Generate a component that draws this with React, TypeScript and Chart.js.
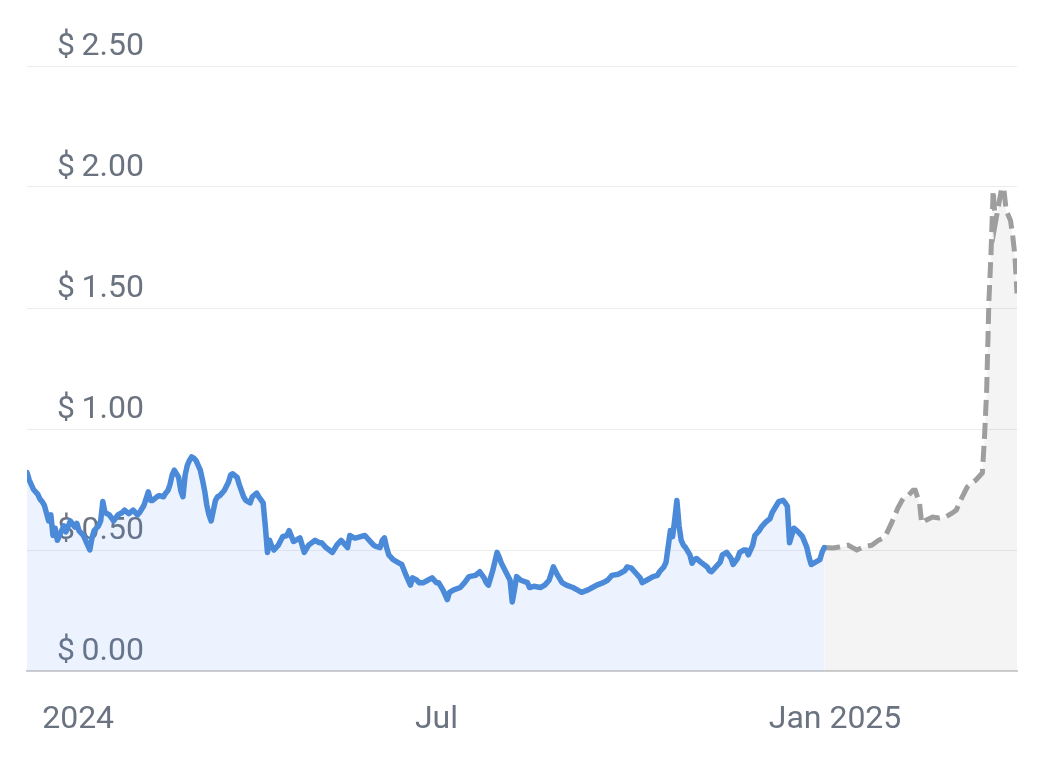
import { useEffect, useRef } from "react";
import { Chart, registerables } from "chart.js";

Chart.register(...registerables);

// Days counted from 2024-01-01
const actualDays = [
  -7, -6, -4, -2, -1, 0, 1, 3, 4, 5, 6, 7, 9, 10, 11, 13, 15, 16, 17, 19, 21, 22, 23, 24, 26, 27, 28, 29, 31, 33,
  35, 37, 38, 40, 42, 44, 45, 47, 49, 50, 51, 53, 54, 56, 57, 58, 59, 60, 61, 63, 64, 65, 66, 67, 68, 69, 70, 71, 73, 74,
  75, 76, 77, 78, 80, 81, 82, 83, 84, 86, 87, 88, 90, 91, 92, 93, 94, 96, 97, 99, 100, 102, 103, 104, 105, 106, 107, 109, 111, 113,
  114, 116, 117, 119, 120, 121, 123, 126, 128, 129, 131, 134, 136, 138, 140, 141, 142, 144, 145, 147, 149, 151, 153, 154, 156, 157, 158, 159, 160, 162,
  164, 165, 166, 168, 170, 171, 173, 174, 176, 178, 180, 182, 183, 185, 187, 188, 190, 193, 195, 197, 200, 202, 204, 205, 206, 208, 210, 211, 212, 214,
  216, 217, 218, 219, 221, 224, 225, 227, 230, 232, 234, 236, 238, 240, 242, 245, 247, 249, 252, 254, 256, 259, 261, 263, 266, 267, 269, 270, 272, 274,
  276, 277, 279, 282, 284, 285, 287, 288, 290, 291, 292, 293, 294, 295, 296, 297, 299, 300, 301, 302, 304, 307, 308, 309, 311, 313, 314, 316, 318, 319,
  321, 322, 324, 325, 326, 328, 329, 331, 332, 334, 336, 337, 339, 340, 342, 343, 344, 345, 346, 347, 349, 351, 353, 354, 355, 357, 359, 360, 361,
];
const actualPrices = [
  0.82, 0.79, 0.75, 0.73, 0.71, 0.70, 0.685, 0.62, 0.645, 0.56, 0.59, 0.54, 0.58, 0.60, 0.575, 0.62, 0.595, 0.61, 0.58, 0.56, 0.52, 0.50, 0.55, 0.58, 0.60, 0.62, 0.70, 0.655, 0.645, 0.62,
  0.645, 0.655, 0.665, 0.65, 0.665, 0.645, 0.655, 0.685, 0.74, 0.705, 0.705, 0.72, 0.725, 0.72, 0.735, 0.745, 0.77, 0.81, 0.83, 0.80, 0.745, 0.72, 0.81, 0.85, 0.87, 0.885, 0.88, 0.87, 0.83, 0.79,
  0.745, 0.685, 0.645, 0.62, 0.705, 0.72, 0.725, 0.735, 0.745, 0.78, 0.81, 0.815, 0.80, 0.77, 0.745, 0.72, 0.705, 0.695, 0.72, 0.735, 0.72, 0.695, 0.60, 0.49, 0.54, 0.515, 0.50, 0.52, 0.555, 0.56,
  0.58, 0.535, 0.54, 0.55, 0.52, 0.49, 0.52, 0.54, 0.53, 0.53, 0.51, 0.49, 0.52, 0.54, 0.52, 0.51, 0.56, 0.55, 0.55, 0.555, 0.56, 0.54, 0.52, 0.515, 0.51, 0.54, 0.55, 0.51, 0.48, 0.46,
  0.45, 0.445, 0.44, 0.395, 0.355, 0.385, 0.375, 0.365, 0.365, 0.375, 0.385, 0.365, 0.365, 0.335, 0.295, 0.325, 0.335, 0.345, 0.365, 0.39, 0.395, 0.41, 0.385, 0.365, 0.355, 0.415, 0.49, 0.47, 0.445, 0.41,
  0.375, 0.285, 0.335, 0.39, 0.375, 0.365, 0.345, 0.35, 0.345, 0.355, 0.375, 0.43, 0.395, 0.365, 0.355, 0.345, 0.335, 0.325, 0.335, 0.345, 0.355, 0.365, 0.375, 0.395, 0.40, 0.405, 0.415, 0.43, 0.425, 0.405,
  0.385, 0.365, 0.375, 0.39, 0.395, 0.41, 0.43, 0.45, 0.58, 0.555, 0.625, 0.705, 0.60, 0.54, 0.52, 0.51, 0.48, 0.445, 0.46, 0.465, 0.45, 0.43, 0.415, 0.41, 0.43, 0.45, 0.48, 0.49, 0.465, 0.44,
  0.465, 0.49, 0.50, 0.50, 0.48, 0.52, 0.56, 0.58, 0.595, 0.615, 0.63, 0.655, 0.685, 0.70, 0.705, 0.695, 0.68, 0.53, 0.56, 0.59, 0.575, 0.555, 0.51, 0.47, 0.44, 0.45, 0.46, 0.49, 0.51,
];
const forecastDays = [
  361, 365, 368, 372, 376, 379, 383, 386, 389, 392, 395, 397, 398, 400, 402, 403, 405, 406, 408, 411, 414, 417, 420, 422, 424, 427, 429, 431, 434, 435,
  436, 437, 438, 439, 440, 442, 443, 444, 445, 447, 448, 449, 450,
];
const forecastPrices = [
  0.51, 0.508, 0.512, 0.52, 0.50, 0.512, 0.52, 0.54, 0.553, 0.61, 0.673, 0.706, 0.718, 0.727, 0.747, 0.747, 0.694, 0.611, 0.623, 0.636, 0.632, 0.636, 0.652, 0.665, 0.706, 0.76, 0.776, 0.789, 0.818, 0.966,
  1.16, 1.52, 1.726, 1.986, 1.85, 1.95, 1.998, 1.986, 1.903, 1.862, 1.80, 1.72, 1.56,
];

const yTickValues = [0, 0.5, 1, 1.5, 2, 2.5];
const xTickDays = [0, 182, 366];
const xTickLabels = ["2024", "Jul", "Jan 2025"];

const TEXT_COLOR = "#6b7380";

export default function App() {
  const ref = useRef<HTMLCanvasElement>(null);

  useEffect(() => {
    if (!ref.current) return;
    Chart.defaults.font.family = "Roboto";
    const toPts = (d: number[], p: number[]) => d.map((x, i) => ({ x, y: p[i] }));
    const chart = new Chart(ref.current, {
      type: "line",
      data: {
        datasets: [
          {
            data: toPts(actualDays, actualPrices),
            borderColor: "#4a8ad9",
            borderWidth: 5.5,
            backgroundColor: "rgba(66,133,244,0.1)",
            fill: "origin",
            pointRadius: 0,
            tension: 0,
            borderJoinStyle: "round",
            borderCapStyle: "round",
          },
          {
            data: toPts(forecastDays, forecastPrices),
            borderColor: "#9e9e9e",
            borderWidth: 5,
            borderDash: [16, 7],
            backgroundColor: "rgba(0,0,0,0.045)",
            fill: "origin",
            pointRadius: 0,
            tension: 0,
          },
        ],
      },
      options: {
        responsive: false,
        animation: false,
        layout: { padding: { left: 19, right: 19, top: 58, bottom: 16 } },
        plugins: { legend: { display: false }, tooltip: { enabled: false } },
        scales: {
          x: {
            type: "linear",
            min: -7,
            max: 450,
            grid: { display: false, drawTicks: false },
            border: { display: true, color: "#cfcfcf", width: 2 },
            afterBuildTicks: (axis: any) => {
              axis.ticks = [...xTickDays, 430].map((v) => ({ value: v }));
            },
            afterFit: (s: any) => {
              s.height = 68;
            },
            ticks: {
              autoSkip: false,
              maxRotation: 0,
              align: "inner",
              padding: 30,
              color: TEXT_COLOR,
              font: { family: "Roboto", size: 32 },
              callback: (v: any) => {
                const i = xTickDays.indexOf(Number(v));
                return i >= 0 ? xTickLabels[i] : "";
              },
            },
          },
          y: {
            type: "linear",
            position: "left",
            min: 0,
            max: 2.5,
            afterBuildTicks: (axis: any) => {
              axis.ticks = yTickValues.map((v) => ({ value: v }));
            },
            grid: { color: "#ececec", lineWidth: 1, drawTicks: false },
            border: { display: false },
            ticks: { display: false },
            afterFit: (s: any) => {
              s.width = 0;
            },
          },
          yl: {
            type: "linear",
            position: "left",
            min: 0,
            max: 2.5,
            z: 1,
            afterBuildTicks: (axis: any) => {
              axis.ticks = yTickValues.map((v) => ({ value: v }));
            },
            grid: { display: false, drawTicks: false },
            border: { display: false },
            ticks: {
              mirror: true,
              padding: 30,
              labelOffset: -19,
              color: TEXT_COLOR,
              font: { family: "Roboto", size: 32 },
              callback: (v: any) => "$\u2009" + Number(v).toFixed(2),
            },
            afterFit: (s: any) => {
              s.width = 0;
            },
          },
        },
      },
    } as any);
    return () => chart.destroy();
  }, []);

  return <canvas ref={ref} width={1028} height={747} style={{ display: "block" }} />;
}
